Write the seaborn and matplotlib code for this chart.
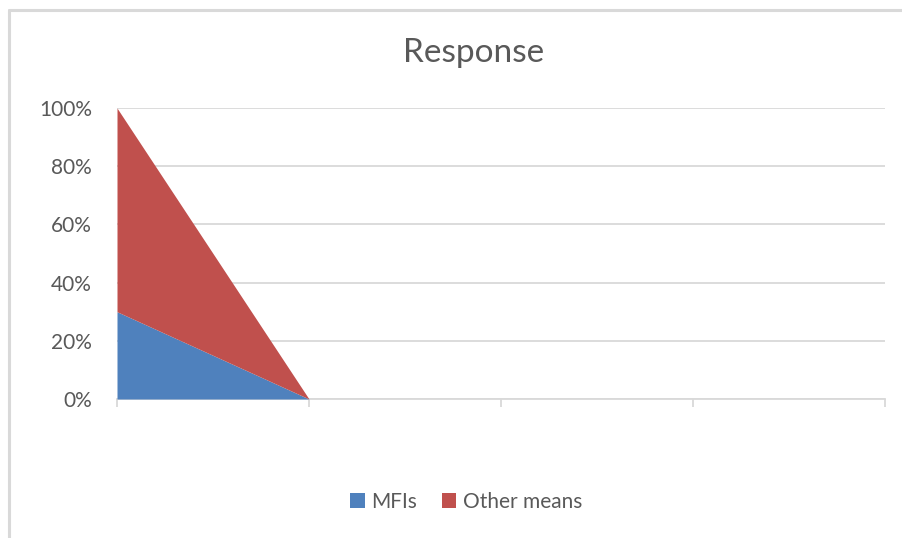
import matplotlib
matplotlib.use("Agg")
import matplotlib.pyplot as plt
from matplotlib.patches import Patch
from matplotlib.lines import Line2D
from matplotlib.ticker import PercentFormatter
import seaborn as sns
import pandas as pd

# Categories along the x axis and the share of responses for each series
categories = [1, 2, 3, 4, 5]
mfis = [0.30, 0.0, 0.0, 0.0, 0.0]
other_means = [0.70, 0.0, 0.0, 0.0, 0.0]
series_names = ["MFIs", "Other means"]
y_ticks = [0.0, 0.2, 0.4, 0.6, 0.8, 1.0]

df = pd.DataFrame({"category": categories, "MFIs": mfis, "Other means": other_means})

sns.set_theme(style="white")
plt.rcParams["font.family"] = ["Lato", "DejaVu Sans"]

text_color = "#595959"
grid_color = "#D9D9D9"
colors = ["#4F81BD", "#C0504D"]

fig = plt.figure(figsize=(9.03, 5.38), dpi=100)
ax = fig.add_axes([117 / 903, 139 / 538, 768 / 903, 291 / 538])

ax.stackplot(df["category"], df["MFIs"], df["Other means"], colors=colors,
             linewidth=0, zorder=2)

ax.set_xlim(categories[0], categories[-1])
ax.set_ylim(0, 1)
ax.set_yticks(y_ticks)
ax.yaxis.set_major_formatter(PercentFormatter(1.0, decimals=0))
ax.set_xticks(categories)
ax.set_xticklabels([])

ax.grid(axis="y", color=grid_color, linewidth=1.3, zorder=0)
ax.grid(axis="x", visible=False)
sns.despine(ax=ax, left=True, top=True, right=True, bottom=False)
ax.spines["bottom"].set_color(grid_color)
ax.spines["bottom"].set_linewidth(1.3)
ax.spines["bottom"].set_zorder(1)

ax.tick_params(axis="y", length=0, pad=18, labelsize=15, labelcolor=text_color)
ax.tick_params(axis="x", bottom=True, length=6, width=1.3, color=grid_color,
               direction="out")

fig.text(474 / 903, 1 - 53 / 538, "Response", ha="center", va="center",
         fontsize=24, color=text_color)

handles = [Patch(facecolor=c, edgecolor="none") for c in colors]
fig.legend(handles, series_names, loc="center", bbox_to_anchor=(466 / 903, 36 / 538),
           ncol=2, frameon=False, fontsize=15, labelcolor=text_color,
           handlelength=0.7, handleheight=0.7, handletextpad=0.3, columnspacing=1.2)

# chart frame (top and left edges)
fig.add_artist(Line2D([9.5 / 903, 1.0], [1 - 10 / 538, 1 - 10 / 538],
                      color=grid_color, linewidth=2.2, transform=fig.transFigure))
fig.add_artist(Line2D([9.5 / 903, 9.5 / 903], [0.0, 1 - 10 / 538],
                      color=grid_color, linewidth=2.2, transform=fig.transFigure))

fig.savefig("out.png", dpi=100, facecolor="white")
